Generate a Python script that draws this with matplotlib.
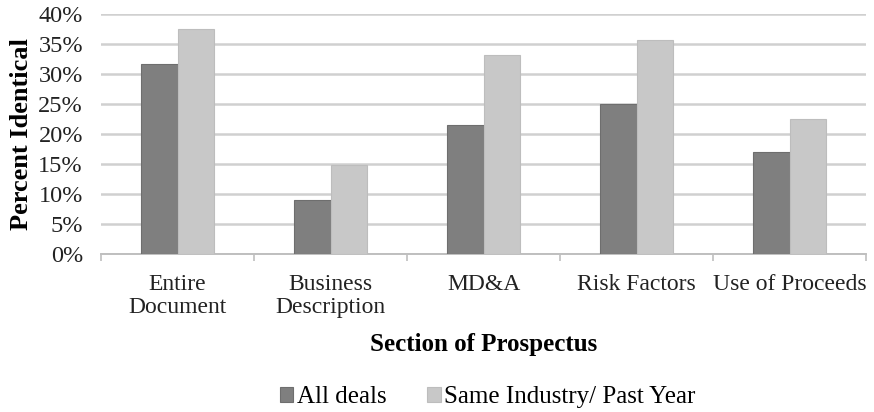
import numpy as np
import matplotlib.pyplot as plt
from matplotlib.ticker import PercentFormatter

# percent of text identical, by prospectus section
sections = ['Entire\nDocument', 'Business\nDescription', 'MD&A', 'Risk Factors', 'Use of Proceeds']
all_deals = [31.6, 9.1, 21.5, 25.0, 17.1]
same_industry = [37.5, 14.9, 33.1, 35.6, 22.5]

plt.rcParams['font.family'] = ['Liberation Serif', 'DejaVu Serif']

fig = plt.figure(figsize=(8.74, 4.12), dpi=100)
ax = fig.add_axes([0.1156, 0.383, 0.8754, 0.583])

x = np.arange(len(sections))
w = 0.24
ax.bar(x - w/2, all_deals, w, color='#7f7f7f', edgecolor='#6e6e6e', linewidth=0.8,
       label='All deals', zorder=3)
ax.bar(x + w/2, same_industry, w, color='#c8c8c8', edgecolor='#bdbdbd', linewidth=0.8,
       label='Same Industry/ Past Year', zorder=3)

ax.set_xlim(-0.5, len(sections) - 0.5)
ax.set_ylim(0, 40)
ax.set_yticks(np.arange(0, 41, 5))
ax.yaxis.set_major_formatter(PercentFormatter(decimals=0))
ax.grid(axis='y', color='#d0d0d0', linewidth=1.8, zorder=0)

ax.set_xticks(x)
ax.set_xticklabels(sections, fontsize=17, color='#222222', linespacing=1.12)
ax.set_xticks(np.arange(-0.5, len(sections), 1), minor=True)
ax.tick_params(axis='x', which='major', length=0, pad=14)
ax.tick_params(axis='x', which='minor', length=5, width=1.2, color='#bfbfbf')
ax.tick_params(axis='y', length=0, labelsize=17.5, labelcolor='#222222', pad=13)

for s in ['top', 'right', 'left']:
    ax.spines[s].set_visible(False)
ax.spines['bottom'].set_color('#bfbfbf')
ax.spines['bottom'].set_linewidth(1.4)

ax.set_ylabel('Percent Identical', fontsize=19, fontweight='bold', labelpad=4)
fig.text(0.553, 0.163, 'Section of Prospectus', fontsize=18, fontweight='bold',
         ha='center', va='center')

fig.legend(loc='center', bbox_to_anchor=(0.558, 0.036), ncol=2, frameon=False,
           fontsize=18, handlelength=0.55, handleheight=0.55, handletextpad=0.15,
           columnspacing=1.6)

fig.savefig('out.png', dpi=100)
